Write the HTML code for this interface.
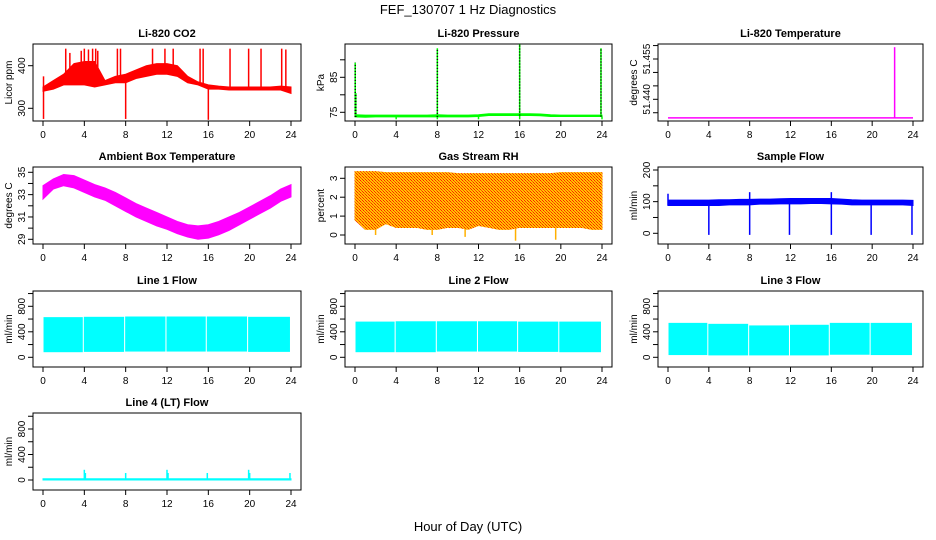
<!DOCTYPE html>
<html><head><meta charset="utf-8">
<style>
html,body{margin:0;padding:0;background:#fff;}
svg{display:block;font-family:"Liberation Sans",Arial,sans-serif;}
</style></head>
<body>
<svg id="chart" width="936" height="540" viewBox="0 0 936 540" xmlns="http://www.w3.org/2000/svg">
<defs>
<pattern id="rhpat" width="3" height="3" patternUnits="userSpaceOnUse">
<rect width="3" height="3" fill="#ffc400"/><rect width="1" height="1" fill="#ff2000"/><rect x="1" y="1" width="1" height="1" fill="#ff5000"/><rect x="2" y="2" width="1" height="1" fill="#ff2000"/>
</pattern>
</defs>
<text x="468" y="14" text-anchor="middle" font-size="13">FEF_130707  1 Hz Diagnostics</text>
<text x="468" y="531" text-anchor="middle" font-size="13">Hour of Day (UTC)</text>
</svg>
<script>
// ---- data ----
const hours = [0,1,2,3,4,5,6,7,8,9,10,11,12,13,14,15,16,17,18,19,20,21,22,23,24];
const xTicks = [0,4,8,12,16,20,24];

const co2Lo = [340,345,355,355,355,350,355,360,360,370,375,380,380,375,360,355,345,345,343,343,343,343,343,343,335];
const co2Hi = [350,365,380,405,410,410,365,375,380,390,400,405,405,400,375,362,355,352,350,350,350,350,350,352,350];
const co2SpikeHours = [0.05,0.05,2.2,2.6,3.7,4.0,4.4,4.8,5.1,5.3,7.2,7.5,8.0,10.6,11.8,12.6,15.2,15.5,16.0,18.1,19.9,21.1,23.1,23.5];
const co2SpikeVals = [275,375,440,430,435,440,438,440,440,435,440,440,275,440,440,440,440,440,273,440,440,440,440,438];

const presLo = [73.7,73.6,73.7,73.7,73.7,73.7,73.7,73.7,73.7,73.7,73.7,73.7,73.8,74.1,74.1,74.1,74.1,74.1,74.0,73.8,73.8,73.8,73.8,73.8,73.8];
const presHi = [74.3,74.2,74.2,74.2,74.2,74.2,74.2,74.2,74.3,74.2,74.2,74.2,74.3,74.6,74.6,74.6,74.6,74.6,74.5,74.3,74.2,74.2,74.2,74.2,74.2];
const presSpikeHours = [0.02,0.08,8.0,16.0,23.9,4.0,8.0,12.0,16.0,24.0];
const presSpikeVals = [89.2,80.5,93.3,94.6,93.3,73.0,73.0,73.0,73.0,73.0];

const ltHours = [0,24];
const ltVals = [51.4331,51.4331];
const ltSpikeHours = [22.2];
const ltSpikeVals = [51.4594];

const ambLo = [32.6,33.5,33.8,33.6,33.2,32.8,32.5,32.0,31.5,31.0,30.6,30.2,29.9,29.5,29.2,29.0,29.1,29.4,29.8,30.3,30.8,31.3,31.8,32.4,32.8];
const ambHi = [33.8,34.4,34.8,34.7,34.3,33.9,33.6,33.2,32.7,32.2,31.8,31.4,31.0,30.6,30.3,30.2,30.3,30.6,31.0,31.4,31.9,32.4,32.9,33.5,33.9];

const rhLo = [0.8,0.3,0.3,0.6,0.4,0.4,0.4,0.3,0.3,0.4,0.4,0.3,0.5,0.4,0.3,0.3,0.4,0.4,0.4,0.4,0.4,0.4,0.4,0.3,0.3];
const rhHi = [3.35,3.35,3.35,3.3,3.3,3.3,3.3,3.3,3.3,3.3,3.25,3.25,3.25,3.25,3.25,3.25,3.25,3.25,3.25,3.25,3.3,3.3,3.3,3.3,3.3];
const rhDipHours = [2.0,7.5,10.7,15.6,19.5];
const rhDipVals = [0.0,0.0,-0.1,-0.3,-0.25];

const sfLo = [88,88,88,88,88,88,90,90,90,92,92,93,93,93,94,94,93,92,90,90,90,90,90,90,88];
const sfHi = [105,105,105,105,105,106,106,107,107,108,108,109,110,110,110,110,110,108,106,105,105,105,105,105,104];
const sfSpikeHours = [4.0,8.0,11.9,16.0,19.9,23.9,0.0,8.0,16.0];
const sfSpikeVals = [-5,-5,-5,-5,-5,-5,125,130,130];

const blockStart = [0.05,3.95,7.95,11.95,15.85,19.85];
const blockEnd = [3.85,7.85,11.85,15.75,19.75,23.9];
const line1Hi = [630,635,640,640,640,635];
const line1Lo = [80,85,90,90,90,85];
const line2Hi = [560,565,565,565,560,560];
const line2Lo = [80,80,90,90,85,80];
const line3Hi = [540,525,500,510,540,540];
const line3Lo = [35,30,30,30,40,35];

const l4Hours = [0,24];
const l4Lo = [0,0];
const l4Hi = [20,20];
const l4SpikeHours = [4.0,4.1,8.0,12.0,12.1,15.9,19.9,20.0,23.9];
const l4SpikeVals = [160,110,110,160,110,110,160,110,110];

// ---- layout ----
const NS = 'http://www.w3.org/2000/svg';
const svg = document.getElementById('chart');
const cols = [{l:33,r:301},{l:345,r:612},{l:658,r:923}];
const rows = [{t:44,b:121},{t:167,b:244},{t:291,b:367},{t:413,b:490}];
let clipId = 0;

function mk(tag, attrs, parent){
  const e = document.createElementNS(NS, tag);
  for (const k in attrs) e.setAttribute(k, attrs[k]);
  (parent||svg).appendChild(e);
  return e;
}

function panel(cfg){
  const c = cols[cfg.col], r = rows[cfg.row];
  const g = mk('g', {});
  
  
  const x0 = c.l + 10, x1 = c.r - 10;
  const xs = h => x0 + h/24*(x1-x0);
  const ys = v => cfg.pA + (v - cfg.vA)*(cfg.pB - cfg.pA)/(cfg.vB - cfg.vA);
  const t = mk('text', {x:(c.l+c.r)/2, y:r.t-7, 'text-anchor':'middle', 'font-size':'11', 'font-weight':'bold'}, g);
  t.textContent = cfg.title;
  
  
  clipId++;
  const cp = mk('clipPath', {id:'cp'+clipId}, g);
  mk('rect', {x:c.l, y:r.t, width:c.r-c.l, height:r.b-r.t}, cp);
  const plot = mk('g', {'clip-path':'url(#cp'+clipId+')'}, g);
  
  
  cfg.draw(plot, xs, ys);
  const box = mk('rect', {x:c.l, y:r.t, width:c.r-c.l, height:r.b-r.t, fill:'none', stroke:'#000', 'stroke-width':'1'}, g);
  
  
  xTicks.forEach(h => {
    const x = xs(h);
    mk('line', {x1:x, x2:x, y1:r.b, y2:r.b+5, stroke:'#000'}, g);
    const tl = mk('text', {x:x, y:r.b+17, 'text-anchor':'middle', 'font-size':'10'}, g);
    tl.textContent = String(h);
    
    
  });
  cfg.yTicks.forEach(v => {
    const y = ys(v);
    mk('line', {x1:c.l-5, x2:c.l, y1:y, y2:y, stroke:'#000'}, g);
  });
  cfg.yLabels.forEach(v => {
    const y = ys(v);
    const tl = mk('text', {x:c.l-8, y:y, 'text-anchor':'middle', 'font-size':'10', transform:'rotate(-90 '+(c.l-8)+' '+y+')'}, g);
    tl.textContent = cfg.fmt ? cfg.fmt(v) : String(v);
    
    
  });
  const yc = (r.t+r.b)/2, yx = c.l-21;
  const yl = mk('text', {x:yx, y:yc, 'text-anchor':'middle', 'font-size':'10', transform:'rotate(-90 '+yx+' '+yc+')'}, g);
  yl.textContent = cfg.ylab;
  
  
}

function band(p, xs, ys, hs, lo, hi, fill){
  const pts = [];
  hs.forEach((h,i) => pts.push(xs(h)+','+ys(hi[i])));
  for (let i = hs.length-1; i >= 0; i--) pts.push(xs(hs[i])+','+ys(lo[i]));
  const e = mk('polygon', {points:pts.join(' '), fill:fill, stroke:fill, 'stroke-width':'1'}, p);
  
  
}
function spikes(p, xs, ys, hs, vals, base, color, dash){
  hs.forEach((h,i) => {
    const a = {x1:xs(h), x2:xs(h), y1:ys(base(h)), y2:ys(vals[i]), stroke:color, 'stroke-width':'1.5'};
    if (dash) a['stroke-dasharray'] = dash;
    const e = mk('line', a, p);
    
    
  });
}
function interp(hs, vals){
  return h => { let i = Math.min(Math.floor(h), hs.length-2); const f = h - hs[i]; return vals[i]*(1-f) + vals[i+1]*f; };
}
function blocks(p, xs, ys, hiA, loA){
  blockStart.forEach((s,i) => {
    const e = mk('rect', {x:xs(s), y:ys(hiA[i]), width:xs(blockEnd[i])-xs(s), height:ys(loA[i])-ys(hiA[i]), fill:'#00ffff'}, p);
    
    
  });
}
const flowTicks = [0,200,400,600,800,1000], flowLabels = [0,400,800];

panel({name:'co2', title:'Li-820 CO2', col:0, row:0, ylab:'Licor ppm', vA:400, pA:65.7, vB:300, pB:108.3,
  yTicks:[300,400], yLabels:[300,400],
  draw:(p,xs,ys)=>{ band(p,xs,ys,hours,co2Lo,co2Hi,'#ff0000'); spikes(p,xs,ys,co2SpikeHours,co2SpikeVals,interp(hours,co2Lo),'#ff0000'); }});
panel({name:'pressure', title:'Li-820 Pressure', col:1, row:0, ylab:'kPa', vA:75, pA:112.3, vB:85, pB:77.3,
  yTicks:[75,80,85,90], yLabels:[75,85],
  draw:(p,xs,ys)=>{ band(p,xs,ys,hours,presLo,presHi,'#00ff00'); spikes(p,xs,ys,presSpikeHours,presSpikeVals,interp(hours,presLo),'#00ff00'); spikes(p,xs,ys,presSpikeHours.slice(0,5),presSpikeVals.slice(0,5),interp(hours,presLo),'#000','1,2'); }});
panel({name:'li820-temperature', title:'Li-820 Temperature', col:2, row:0, ylab:'degrees C', vA:51.440, pA:99.3, vB:51.455, pB:59,
  yTicks:[51.435,51.440,51.445,51.450,51.455,51.460], yLabels:[51.440,51.455], fmt:v=>v.toFixed(3),
  draw:(p,xs,ys)=>{ const e = mk('polyline',{points:ltHours.map((h,i)=>xs(h)+','+ys(ltVals[i])).join(' '),fill:'none',stroke:'#ff00ff','stroke-width':'1.5'},p);
     
    spikes(p,xs,ys,ltSpikeHours,ltSpikeVals,()=>ltVals[0],'#ff00ff'); }});
panel({name:'ambient-temperature', title:'Ambient Box Temperature', col:0, row:1, ylab:'degrees C', vA:35, pA:172.3, vB:29, pB:239.3,
  yTicks:[29,30,31,32,33,34,35], yLabels:[29,31,33,35],
  draw:(p,xs,ys)=>{ band(p,xs,ys,hours,ambLo,ambHi,'#ff00ff'); }});
panel({name:'gas-stream-rh', title:'Gas Stream RH', col:1, row:1, ylab:'percent', vA:3, pA:178.3, vB:0, pB:235,
  yTicks:[0,1,2,3], yLabels:[0,1,2,3],
  draw:(p,xs,ys)=>{ band(p,xs,ys,hours,rhLo,rhHi,'url(#rhpat)'); spikes(p,xs,ys,rhDipHours,rhDipVals,interp(hours,rhLo),'#ffb000'); }});
panel({name:'sample-flow', title:'Sample Flow', col:2, row:1, ylab:'ml/min', vA:200, pA:170, vB:0, pB:233.3,
  yTicks:[0,50,100,150,200], yLabels:[0,100,200],
  draw:(p,xs,ys)=>{ band(p,xs,ys,hours,sfLo,sfHi,'#0000ff'); spikes(p,xs,ys,sfSpikeHours,sfSpikeVals,interp(hours,sfLo),'#0000ff'); }});
panel({name:'line1-flow', title:'Line 1 Flow', col:0, row:2, ylab:'ml/min', vA:0, pA:357.3, vB:800, pB:306.3,
  yTicks:flowTicks, yLabels:flowLabels, draw:(p,xs,ys)=>blocks(p,xs,ys,line1Hi,line1Lo)});
panel({name:'line2-flow', title:'Line 2 Flow', col:1, row:2, ylab:'ml/min', vA:0, pA:357.3, vB:800, pB:306.3,
  yTicks:flowTicks, yLabels:flowLabels, draw:(p,xs,ys)=>blocks(p,xs,ys,line2Hi,line2Lo)});
panel({name:'line3-flow', title:'Line 3 Flow', col:2, row:2, ylab:'ml/min', vA:0, pA:357.3, vB:800, pB:306.3,
  yTicks:flowTicks, yLabels:flowLabels, draw:(p,xs,ys)=>blocks(p,xs,ys,line3Hi,line3Lo)});
panel({name:'line4-flow', title:'Line 4 (LT) Flow', col:0, row:3, ylab:'ml/min', vA:0, pA:480, vB:800, pB:429,
  yTicks:flowTicks, yLabels:flowLabels,
  draw:(p,xs,ys)=>{ band(p,xs,ys,l4Hours,l4Lo,l4Hi,'#00ffff'); spikes(p,xs,ys,l4SpikeHours,l4SpikeVals,()=>10,'#00ffff'); }});
</script>
</body></html>
